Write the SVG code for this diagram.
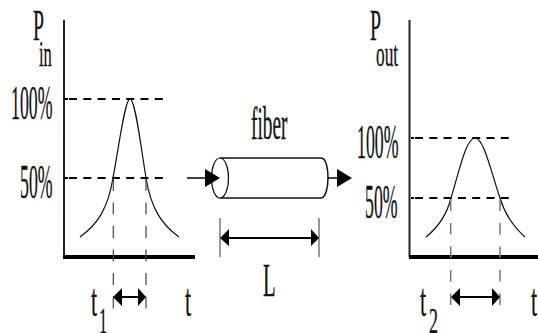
<svg xmlns="http://www.w3.org/2000/svg" width="538" height="333" viewBox="0 0 538 333">
<style>
text{font-family:"Liberation Serif","Times New Roman",serif;fill:#111;stroke:#111;stroke-width:.3}
.big{font-size:46px}.num{font-size:48px}.sub{font-size:36px}.idx{font-size:36px}.cap{font-size:44px}
.ax{stroke:#222;fill:none;stroke-width:2}
.base{stroke:#000;fill:none;stroke-width:4}
.dash{stroke:#000;fill:none;stroke-width:2;stroke-dasharray:8 6.3}
.tick{stroke:#444;fill:none;stroke-width:1.2;stroke-dasharray:12 11.5}
.tick2{stroke:#777;fill:none;stroke-width:1.5;stroke-dasharray:11.500 12}
.curve{stroke:#111;fill:none;stroke-width:1.2}
.line{stroke:#000;fill:none;stroke-width:1.5}
.dim{stroke:#000;fill:none;stroke-width:2}
.edge{stroke:#555;fill:none;stroke-width:1.2}
.head{fill:#000}
</style>
<rect width="538" height="333" fill="#fff"/>
<g id="input-chart">
<path class="ax" d="M64 20V257"/>
<path class="base" d="M63 257H195"/>
<path class="dash" d="M64 99H68M69 99H163M64 178H68M69 178H163"/>
<path class="curve" d="M80 237C98 224 108 208 113 178C120 140 125 99 130 99C135 99 140 140 146 178C151 208 161 224 179 237"/>
<path class="tick" d="M113.300 179V309M146 179V309"/>
<path class="dim" d="M122 297H138"/>
<path class="head" d="M113 297L122 288V306ZM146 297L138 288V306Z"/>
<text class="cap" transform="translate(33 39.500) scale(.45 1)">P</text>
<text class="sub" transform="translate(39 66) scale(.46 1)">in</text>
<text class="num" transform="translate(11 119) scale(.37 1)">100%</text>
<text class="num" transform="translate(20 198) scale(.37 1)">50%</text>
<text class="big" transform="translate(91 316) scale(.48 1)">t</text>
<text class="idx" transform="translate(99 333) scale(.45 1)">1</text>
<text class="big" transform="translate(185 316) scale(.48 1)">t</text>
</g>
<g id="fiber">
<path d="M220 158H321C327 158 328 172 328 178C328 186 326 198 321 198H220" fill="none" stroke="#111" stroke-width="1.5"/>
<ellipse cx="220" cy="178" rx="8.500" ry="20" fill="none" stroke="#111" stroke-width="1.2"/>
<text class="big" transform="translate(251 139) scale(.42 1)">fiber</text>
<path class="edge" d="M220 218V257M319 218V257"/>
<path class="dim" d="M228 238H312"/>
<path class="head" d="M220 238L229 229V246ZM319 238L311 229V246Z"/>
<text class="big" transform="translate(263 296) scale(.45 1)">L</text>
</g>
<g id="output-chart">
<path class="ax" d="M409.500 20V257"/>
<path class="base" d="M409 257H538"/>
<path class="dash" d="M411 138H414M415 138H509M411 198H414M415 198H509"/>
<path class="curve" d="M426 237C436 229 446 218 451 198C459 172 466 138 475 138C484 138 491 172 500 198C506 218 516 229 525 237"/>
<path class="tick2" d="M450.700 199.500V306M500 199.500V306"/>
<path class="dim" d="M459 297H492"/>
<path class="head" d="M451 297L460 288V306ZM500 297L492 288V306Z"/>
<text class="cap" transform="translate(370 39.500) scale(.45 1)">P</text>
<text class="sub" transform="translate(376 66) scale(.48 1)">out</text>
<text class="num" transform="translate(357 158) scale(.37 1)">100%</text>
<text class="num" transform="translate(365 218) scale(.37 1)">50%</text>
<text class="big" transform="translate(420 316) scale(.48 1)">t</text>
<text class="idx" transform="translate(429 333) scale(.5 1)">2</text>
<text class="big" transform="translate(531 316) scale(.48 1)">t</text>
</g>
<g id="connectors">
<path class="line" d="M187 178H208"/>
<path class="head" d="M205 169L220 178L205 187Z"/>
<path class="line" d="M328 178H338"/>
<path class="head" d="M337 169L352 178L337 187Z"/>
</g>
</svg>
